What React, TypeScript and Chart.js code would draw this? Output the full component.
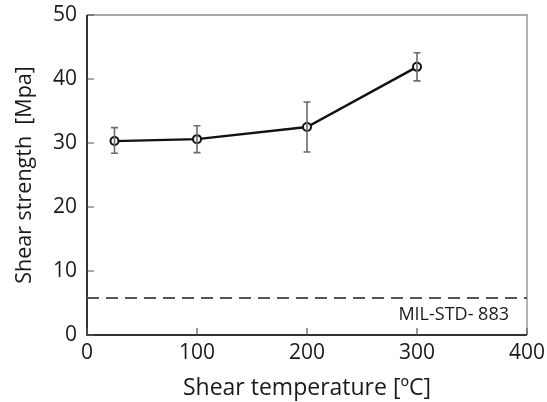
import React, { useEffect, useRef } from "react";
import { Chart, registerables } from "chart.js";

Chart.register(...registerables);

const temperatures = [25, 100, 200, 300];
const strengths = [30.3, 30.6, 32.5, 41.9];
const errUpper = [32.4, 32.7, 36.4, 44.1];
const errLower = [28.4, 28.5, 28.6, 39.7];
const milStdValue = 5.8;
const milStdRange = [0, 400];
const milStdLabel = "MIL-STD- 883";
const xTicks = [0, 100, 200, 300, 400];
const yTicks = [0, 10, 20, 30, 40, 50];

const FONT = "'Open Sans', 'Liberation Sans', sans-serif";
const TEXT = "#1a1a1a";

const framePlugin = {
  id: "frameAndBars",
  afterDatasetsDraw(chart: any) {
    const { ctx, scales } = chart;
    const xs = scales.x;
    const ys = scales.y;
    ctx.save();
    ctx.strokeStyle = "#6b6b6b";
    ctx.lineWidth = 1.6;
    temperatures.forEach((t, i) => {
      const px = xs.getPixelForValue(t);
      const top = ys.getPixelForValue(errUpper[i]);
      const bot = ys.getPixelForValue(errLower[i]);
      ctx.beginPath();
      ctx.moveTo(px, top);
      ctx.lineTo(px, bot);
      ctx.moveTo(px - 3.5, top);
      ctx.lineTo(px + 3.5, top);
      ctx.moveTo(px - 3.5, bot);
      ctx.lineTo(px + 3.5, bot);
      ctx.stroke();
    });
    ctx.restore();
  },
  beforeDatasetsDraw(chart: any) {
    const { ctx, chartArea, scales } = chart;
    const xs = scales.x;
    const ys = scales.y;
    const { left, right, top, bottom } = chartArea;
    ctx.save();
    ctx.strokeStyle = "#8a8a8a";
    ctx.lineWidth = 1.3;
    ctx.beginPath();
    ctx.moveTo(left, top);
    ctx.lineTo(right, top);
    ctx.lineTo(right, bottom);
    ctx.stroke();
    ctx.strokeStyle = "#333";
    ctx.lineWidth = 2;
    ctx.beginPath();
    ctx.moveTo(left, top);
    ctx.lineTo(left, bottom);
    ctx.lineTo(right, bottom);
    ctx.stroke();
    ctx.strokeStyle = "#555";
    ctx.lineWidth = 1.2;
    ctx.beginPath();
    yTicks.forEach((v) => {
      const py = ys.getPixelForValue(v);
      ctx.moveTo(left, py);
      ctx.lineTo(left + 7, py);
    });
    xTicks.forEach((v) => {
      const px = xs.getPixelForValue(v);
      ctx.moveTo(px, bottom);
      ctx.lineTo(px, bottom - 7);
    });
    ctx.stroke();
    ctx.fillStyle = TEXT;
    ctx.font = `18px ${FONT}`;
    ctx.textAlign = "right";
    ctx.textBaseline = "middle";
    ctx.fillText(milStdLabel, right - 18, ys.getPixelForValue(3.1));
    ctx.restore();
  },
};

export default function App() {
  const ref = useRef<HTMLCanvasElement | null>(null);
  useEffect(() => {
    if (!ref.current) return;
    const chart = new Chart(ref.current, {
      type: "scatter",
      data: {
        datasets: [
          {
            data: temperatures.map((t, i) => ({ x: t, y: strengths[i] })),
            showLine: true,
            borderColor: "#111",
            borderWidth: 2.4,
            pointStyle: "circle",
            pointRadius: 4,
            pointBackgroundColor: "#fff",
            pointBorderColor: "#111",
            pointBorderWidth: 2,
            order: 0,
          },
          {
            data: milStdRange.map((x) => ({ x, y: milStdValue })),
            showLine: true,
            borderColor: "#555",
            borderWidth: 2,
            borderDash: [12, 7],
            pointRadius: 0,
            order: 1,
          },
        ],
      },
      options: {
        animation: false,
        responsive: false,
        maintainAspectRatio: false,
        layout: { padding: { left: 0, right: 20, top: 15, bottom: 0 } },
        plugins: { legend: { display: false }, tooltip: { enabled: false } },
        scales: {
          x: {
            type: "linear",
            min: 0,
            max: 400,
            grid: { display: false, drawTicks: false },
            border: { display: false },
            ticks: {
              stepSize: 100,
              padding: 5,
              color: TEXT,
              font: { family: FONT, size: 21 },
              maxRotation: 0,
            },
            title: {
              display: true,
              text: "Shear temperature [ºC]",
              color: TEXT,
              font: { family: FONT, size: 23 },
              padding: { top: 2, bottom: 0 },
            },
            afterFit(scale: any) {
              scale.height = 67;
              scale.paddingLeft = 0;
              scale.paddingRight = 0;
            },
          },
          y: {
            min: 0,
            max: 50,
            grid: { display: false, drawTicks: false },
            border: { display: false },
            ticks: {
              stepSize: 10,
              padding: 10,
              color: TEXT,
              font: { family: FONT, size: 21 },
            },
            title: {
              display: true,
              text: "Shear strength  [Mpa]",
              color: TEXT,
              font: { family: FONT, size: 21.5 },
              padding: { top: 12, bottom: 0 },
            },
            afterFit(scale: any) {
              scale.width = 87;
              scale.paddingTop = 0;
              scale.paddingBottom = 0;
            },
          },
        },
      },
      plugins: [framePlugin],
    });
    return () => chart.destroy();
  }, []);
  return (
    <div style={{ position: "absolute", left: 0, top: 0, width: 547, height: 402, background: "#fff" }}>
      <canvas ref={ref} width={547} height={402} />
    </div>
  );
}
